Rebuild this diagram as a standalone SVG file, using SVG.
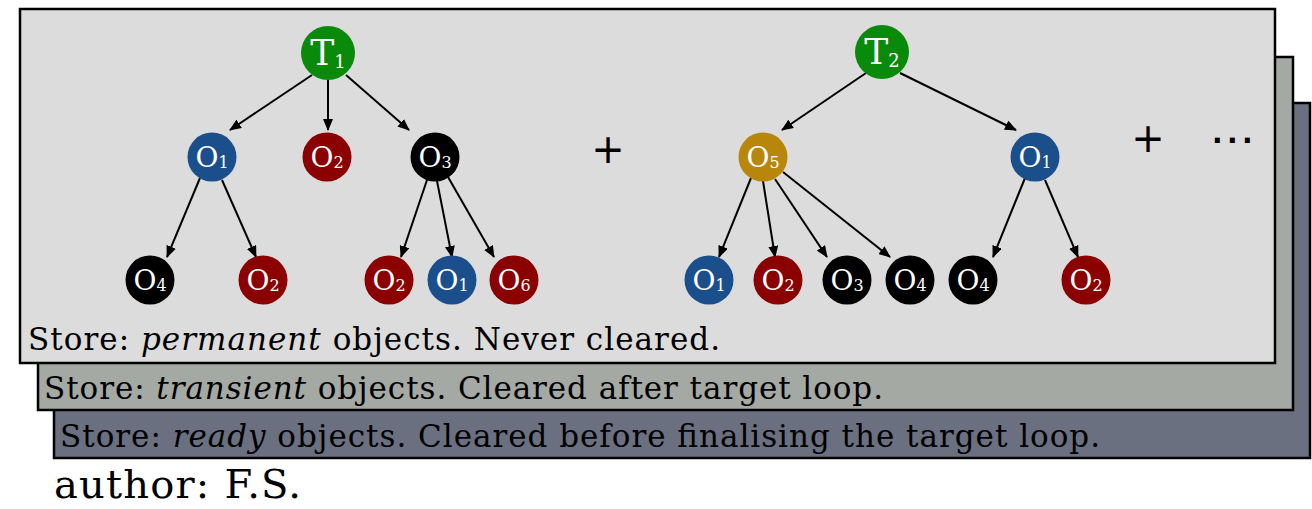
<svg xmlns="http://www.w3.org/2000/svg" width="1312" height="509" viewBox="0 0 1312 509">
<style>
.panel{stroke:#000;stroke-width:2.5}
.store{font-family:"DejaVu Serif",serif;font-size:31px;fill:#000}
.node text{font-family:"DejaVu Serif",serif;fill:#fff;text-anchor:middle}
.o{font-size:28px}
.t{font-size:36px}
.sub1{font-size:16px}
.subT{font-size:18px}
.edge{stroke:#000;stroke-width:2;fill:none;marker-end:url(#ah)}
.green{fill:#0a8a0a}.blue{fill:#1b4f8c}.red{fill:#8b0000}.black{fill:#000}.gold{fill:#b8860b}
</style>
<defs>
<marker id="ah" markerWidth="12" markerHeight="10" refX="11" refY="5" orient="auto" markerUnits="userSpaceOnUse"><path d="M0,0 L12,5 L0,10 z" fill="#000"/></marker>
</defs>
<rect width="1312" height="509" fill="#fff"/>
<g id="store-ready"><rect class="panel" x="54" y="103" width="1256" height="355" fill="#6b7080"/>
<text class="store" x="60" y="447" textLength="1040" lengthAdjust="spacing">Store: <tspan font-style="italic">ready</tspan> objects. Cleared before finalising the target loop.</text></g>
<g id="store-transient"><rect class="panel" x="38" y="57" width="1255" height="353" fill="#a4a9a4"/>
<text class="store" x="44" y="399" textLength="839" lengthAdjust="spacing">Store: <tspan font-style="italic">transient</tspan> objects. Cleared after target loop.</text></g>
<g id="store-permanent"><rect class="panel" x="20" y="9" width="1255" height="354" fill="#dcdcdc"/>
<text class="store" x="28" y="350" textLength="692" lengthAdjust="spacing">Store: <tspan font-style="italic">permanent</tspan> objects. Never cleared.</text></g>

<g id="connectors">
<path class="edge" d="M312,75 L230,130"/>
<path class="edge" d="M328,80 L328,130"/>
<path class="edge" d="M346,75 L409,130"/>
<path class="edge" d="M200,178 L167,257"/>
<path class="edge" d="M222,180 L256,257"/>
<path class="edge" d="M427,180 L401,257"/>
<path class="edge" d="M437,181 L452,257"/>
<path class="edge" d="M448,177 L494,257"/>
<path class="edge" d="M866,73 L782,130"/>
<path class="edge" d="M900,73 L1016,130"/>
<path class="edge" d="M751,178 L719,257"/>
<path class="edge" d="M763,181 L775,257"/>
<path class="edge" d="M775,179 L827,257"/>
<path class="edge" d="M783,172 L890,257"/>
<path class="edge" d="M1025,178 L993,257"/>
<path class="edge" d="M1045,180 L1078,257"/>
</g>

<g id="t1" class="node"><circle class="green" cx="328" cy="53" r="27"/><text class="t" x="328" y="65">T<tspan class="subT" dy="3">1</tspan></text></g>
<g id="t1-o1" class="node"><circle class="blue" cx="212" cy="157" r="24.5"/><text class="o" x="212" y="167">O<tspan class="sub1" dy="1">1</tspan></text></g>
<g id="t1-o2" class="node"><circle class="red" cx="327" cy="157" r="24.5"/><text class="o" x="327" y="167">O<tspan class="sub1" dy="1">2</tspan></text></g>
<g id="t1-o3" class="node"><circle class="black" cx="435" cy="157" r="24.5"/><text class="o" x="435" y="167">O<tspan class="sub1" dy="1">3</tspan></text></g>
<g id="t1-o1-o4" class="node"><circle class="black" cx="150" cy="280" r="24.5"/><text class="o" x="150" y="290">O<tspan class="sub1" dy="1">4</tspan></text></g>
<g id="t1-o1-o2" class="node"><circle class="red" cx="263" cy="280" r="24.5"/><text class="o" x="263" y="290">O<tspan class="sub1" dy="1">2</tspan></text></g>
<g id="t1-o3-o2" class="node"><circle class="red" cx="389" cy="280" r="24.5"/><text class="o" x="389" y="290">O<tspan class="sub1" dy="1">2</tspan></text></g>
<g id="t1-o3-o1" class="node"><circle class="blue" cx="452" cy="280" r="24.5"/><text class="o" x="452" y="290">O<tspan class="sub1" dy="1">1</tspan></text></g>
<g id="t1-o3-o6" class="node"><circle class="red" cx="514" cy="280" r="24.5"/><text class="o" x="514" y="290">O<tspan class="sub1" dy="1">6</tspan></text></g>

<g id="t2" class="node"><circle class="green" cx="882" cy="52" r="27"/><text class="t" x="882" y="64">T<tspan class="subT" dy="3">2</tspan></text></g>
<g id="t2-o5" class="node"><circle class="gold" cx="763" cy="157" r="24.5"/><text class="o" x="763" y="167">O<tspan class="sub1" dy="1">5</tspan></text></g>
<g id="t2-o1" class="node"><circle class="blue" cx="1035" cy="157" r="24.5"/><text class="o" x="1035" y="167">O<tspan class="sub1" dy="1">1</tspan></text></g>
<g id="t2-o5-o1" class="node"><circle class="blue" cx="709" cy="280" r="24.5"/><text class="o" x="709" y="290">O<tspan class="sub1" dy="1">1</tspan></text></g>
<g id="t2-o5-o2" class="node"><circle class="red" cx="778" cy="280" r="24.5"/><text class="o" x="778" y="290">O<tspan class="sub1" dy="1">2</tspan></text></g>
<g id="t2-o5-o3" class="node"><circle class="black" cx="847" cy="280" r="24.5"/><text class="o" x="847" y="290">O<tspan class="sub1" dy="1">3</tspan></text></g>
<g id="t2-o5-o4" class="node"><circle class="black" cx="910" cy="280" r="24.5"/><text class="o" x="910" y="290">O<tspan class="sub1" dy="1">4</tspan></text></g>
<g id="t2-o1-o4" class="node"><circle class="black" cx="973" cy="280" r="24.5"/><text class="o" x="973" y="290">O<tspan class="sub1" dy="1">4</tspan></text></g>
<g id="t2-o1-o2" class="node"><circle class="red" cx="1086" cy="280" r="24.5"/><text class="o" x="1086" y="290">O<tspan class="sub1" dy="1">2</tspan></text></g>

<g id="ops" font-family="DejaVu Sans, sans-serif" fill="#000">
<text x="608" y="163" font-size="40" text-anchor="middle">+</text>
<text x="1148" y="152" font-size="40" text-anchor="middle">+</text>
<text x="1212" y="143" font-size="28" font-weight="bold" letter-spacing="4.4">...</text>
</g>

<text x="54" y="498" font-family="DejaVu Serif, serif" font-size="40" textLength="247" lengthAdjust="spacing">author: F.S.</text>
</svg>
